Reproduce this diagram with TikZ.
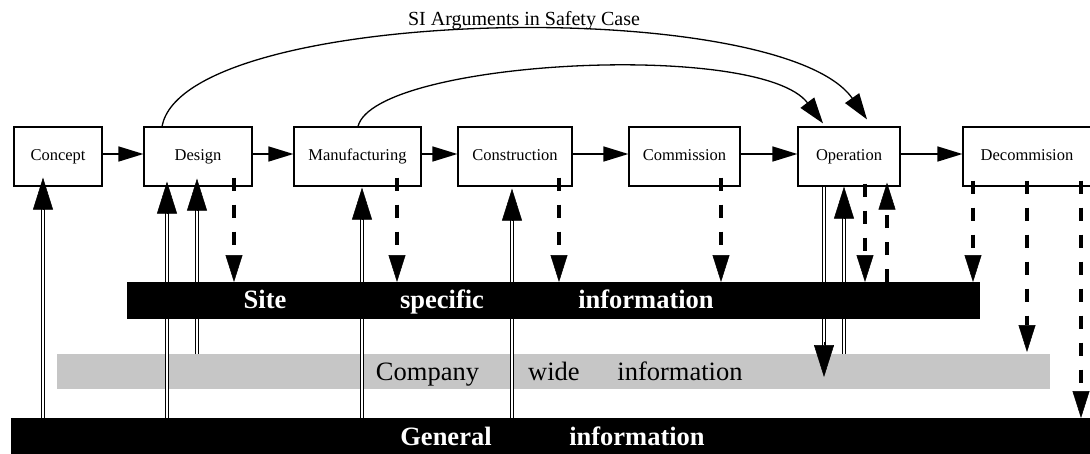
\documentclass[tikz,border=0pt]{standalone}
\usepackage{fontspec}
\setmainfont{Liberation Serif}
\usetikzlibrary{arrows.meta}
\definecolor{bargray}{RGB}{198,198,198}

\begin{document}
\begin{tikzpicture}[x=1pt,y=-1pt,
  box/.style={draw, line width=1.2pt, minimum height=59pt, inner sep=0pt,
    font=\fontsize{16.5}{18}\selectfont, text height=11.5pt, text depth=3.5pt},
  bar/.style={inner sep=0pt, outer sep=0pt},
  flow/.style={line width=1.5pt, -{Triangle[length=25pt,width=15pt]}},
  arc/.style={line width=1.3pt, -{Triangle[length=26pt,width=17pt]}},
  dbl/.style={double, double distance=1.8pt, line width=0.9pt},
  bighead/.style={line width=0.5pt, -{Triangle[length=32pt,width=20pt]}},
  dashflow/.style={line width=3.5pt, dash pattern=on 13pt off 14pt,
    -{Triangle[length=27pt,width=17pt,line width=0.5pt]}},
  boldtext/.style={anchor=base, text=white, font=\fontsize{26.5}{30}\selectfont\bfseries},
  plaintext/.style={anchor=base, text=black, font=\fontsize{26.5}{30}\selectfont},
]
\useasboundingbox (0,0) rectangle (1090,453);

% life-cycle stages
\node[box, minimum width=88pt]  (concept)       at (58,156.5)   {Concept};
\node[box, minimum width=108pt] (design)        at (198,156.5)  {Design};
\node[box, minimum width=127pt] (manufacturing) at (357.5,156.5){Manufacturing};
\node[box, minimum width=114pt] (construction)  at (515,156.5)  {Construction};
\node[box, minimum width=111pt] (commission)    at (684.5,156.5){Commission};
\node[box, minimum width=102pt] (operation)     at (849,156.5)  {Operation};
\node[box, minimum width=128pt] (decommission)  at (1027,156.5) {Decommision};

% information layers
\node[bar, fill=bargray, minimum width=993pt, minimum height=35pt] (company) at (553.5,371.5) {};
\node[bar, minimum width=853pt, minimum height=37pt]  (site)    at (553.5,300.5) {};
\node[bar, minimum width=1084pt, minimum height=37pt] (general) at (553,436.5) {};

% title of the safety case arguments
\node[anchor=base, font=\fontsize{20}{24}\selectfont] (title) at (524,25) {SI Arguments in Safety Case};

% stage sequence
\draw[flow] ([yshift=2.5pt]concept.east) -- ([yshift=2.5pt]design.west);
\draw[flow] ([yshift=2.5pt]design.east) -- ([yshift=2.5pt]manufacturing.west);
\draw[flow] ([yshift=2.5pt]manufacturing.east) -- ([yshift=2.5pt]construction.west);
\draw[flow] ([yshift=2.5pt]construction.east) -- ([yshift=2.5pt]commission.west);
\draw[flow] ([yshift=2.5pt]commission.east) -- ([yshift=2.5pt]operation.west);
\draw[flow] ([yshift=2.5pt]operation.east) -- ([yshift=2.5pt]decommission.west);

% safety case arcs
\draw[arc] ([xshift=-36pt]design.north) .. controls (185,5) and (780,-5) .. ([xshift=18pt,yshift=7pt]operation.north);
\draw[arc] ([xshift=0.5pt]manufacturing.north) .. controls (375,60) and (760,40) .. ([xshift=-26pt,yshift=3pt]operation.north);

% information drawn upon (double lines)
\draw[dbl] ([xshift=-15pt]concept.south |- general.north) -- ([xshift=-15pt,yshift=-20pt]concept.south);
\draw[bighead] ([xshift=-15pt,yshift=-23pt]concept.south) -- ([xshift=-15pt,yshift=9pt]concept.south);

\draw[dbl] ([xshift=-31pt]design.south |- general.north) -- ([xshift=-31pt,yshift=-20pt]design.south);
\draw[bighead] ([xshift=-31pt,yshift=-27pt]design.south) -- ([xshift=-31pt,yshift=5pt]design.south);
\draw[dbl] ([xshift=-1pt]design.south |- company.north) -- ([xshift=-1pt,yshift=-20pt]design.south);
\draw[bighead] ([xshift=-1pt,yshift=-24pt]design.south) -- ([xshift=-1pt,yshift=8pt]design.south);

\draw[dbl] ([xshift=4.5pt]manufacturing.south |- general.north) -- ([xshift=4.5pt,yshift=-20pt]manufacturing.south);
\draw[bighead] ([xshift=4.5pt,yshift=-33pt]manufacturing.south) -- ([xshift=4.5pt,yshift=-1pt]manufacturing.south);

\draw[dbl] ([xshift=-3pt]construction.south |- general.north) -- ([xshift=-3pt,yshift=-20pt]construction.south);
\draw[bighead] ([xshift=-3pt,yshift=-34pt]construction.south) -- ([xshift=-3pt,yshift=-2pt]construction.south);

\draw[dbl] ([xshift=-5pt]operation.south |- company.north) -- ([xshift=-5pt,yshift=-20pt]operation.south);
\draw[bighead] ([xshift=-5pt,yshift=-32pt]operation.south) -- ([xshift=-5pt]operation.south);

% information recorded (double line down to company layer)
\draw[dbl] ([xshift=-25pt]operation.south) -- ([xshift=-25pt,yshift=-4pt]operation.south |- company.north);
\draw[bighead] ([xshift=-25pt,yshift=12pt]operation.south |- company.north) -- ([xshift=-25pt,yshift=-23pt]operation.south |- company.north);

% site specific records (dashed)
\draw[dashflow] ([xshift=36pt,yshift=9pt]design.south) -- ([xshift=36pt]design.south |- site.north);
\draw[dashflow] ([xshift=39.5pt,yshift=9pt]manufacturing.south) -- ([xshift=39.5pt]manufacturing.south |- site.north);
\draw[dashflow] ([xshift=44pt,yshift=9pt]construction.south) -- ([xshift=44pt]construction.south |- site.north);
\draw[dashflow] ([xshift=36.5pt,yshift=9pt]commission.south) -- ([xshift=36.5pt]commission.south |- site.north);
\draw[dashflow] ([xshift=16pt,yshift=3pt]operation.south) -- ([xshift=16pt]operation.south |- site.north);
\draw[dashflow] ([xshift=38pt]operation.south |- site.north) -- ([xshift=38pt,yshift=4pt]operation.south);
\draw[dashflow] ([xshift=-54pt,yshift=6pt]decommission.south) -- ([xshift=-54pt]decommission.south |- site.north);
\draw[dashflow] ([yshift=6pt]decommission.south) -- ([yshift=2pt]decommission.south |- company.north);
\draw[dashflow] ([xshift=54pt,yshift=6pt]decommission.south) -- ([xshift=54pt]decommission.south |- general.north);

% solid layers on top
\fill[black] (site.north west) rectangle (site.south east);
\fill[black] (general.north west) rectangle (general.south east);

% layer labels
\node[boldtext] (siteA) at (265,308) {Site};
\node[boldtext] (siteB) at (442,308) {specific};
\node[boldtext] (siteC) at (646,308) {information};
\node[plaintext] (compA) at (427.5,380) {Company};
\node[plaintext] (compB) at (554,380) {wide};
\node[plaintext] (compC) at (680,380) {information};
\node[boldtext] (genA) at (446,445) {General};
\node[boldtext] (genB) at (637,445) {information};
\end{tikzpicture}
\end{document}
